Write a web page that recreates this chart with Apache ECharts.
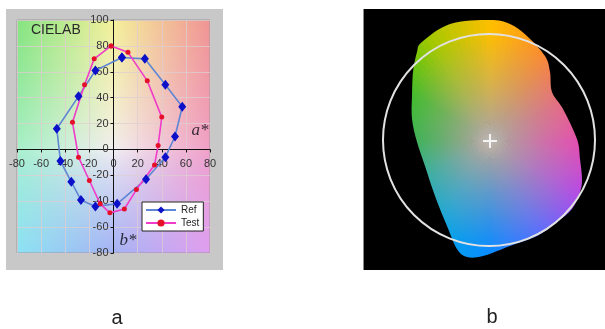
<!DOCTYPE html>
<html><head><meta charset="utf-8">
<script src="https://cdn.jsdelivr.net/npm/echarts@6/dist/echarts.min.js"></script>
<style>html,body{margin:0;padding:0;background:#fff;}#c{width:605px;height:329px;}</style>
</head><body><div id="c"></div>
<script>
// ---------- Panel a: CIELAB a*/b* data ----------
const seriesNames = ['Ref', 'Test'];
const refA  = [7, 26, 43, 57, 51, 43, 27, 3, -15, -27, -35, -44, -47, -29, -15];
const refB  = [71, 70, 50, 33, 10, -6, -23, -42, -44, -39, -25, -9, 16, 41, 61];
const testA = [-2, 12, 28, 40, 37, 34, 19, 9, -3, -11, -20, -29, -34, -24, -16];
const testB = [80, 75, 53, 25, 3, -12, -31, -46, -49, -42, -24, -6, 21, 50, 70];
const aTicks = [-80, -60, -40, -20, 0, 20, 40, 60, 80];
const bTicks = [-80, -60, -40, -20, 0, 20, 40, 60, 80, 100];

// ---------- Panel b: gamut outline (a*, b* units) and reference circle ----------
const blobU = [-68, -40, 0, 20, 37, 55, 60, 62, 73, 87, 90, 92, 90, 82, 67, 47, 20, -7, -23, -33, -43, -55, -65, -73, -78, -78, -77, -73];
const blobV = [99, 117, 121, 117, 105, 85, 69, 49, 32, 2, -18, -38, -51, -68, -81, -95, -105, -115, -116, -108, -85, -55, -25, -1, 22, 45, 69, 89];
const circleRadius = [106];
const hueAngles = [0, 30, 60, 90, 120, 150, 180, 210, 240, 270, 300, 330];

// ---------- styles ----------
const FONT = 'Liberation Sans';
const hueColors = ['#f03cb4', '#f85a78', '#ff8a2a', '#ffbe00', '#a8c800', '#30c018',
                   '#10b838', '#00b4a8', '#00a8e6', '#0a8cff', '#5a6cff', '#b448e8'];
const gamutCenterColor = '#aca49c';
const bgTop = ['#84e480', '#f4f09a', '#f09494'];
const bgMid = ['#a8f0cc', '#f2eef2', '#f0a0c8'];
const bgBot = ['#8ce2f4', '#a4b2f4', '#e09ef0'];

function hex(c){return [parseInt(c.slice(1,3),16),parseInt(c.slice(3,5),16),parseInt(c.slice(5,7),16)];}
function mixA(A,B,t){return A.map((v,i)=>v+(B[i]-v)*t);}
function css(A){return 'rgb('+A.map(v=>Math.round(v)).join(',')+')';}

function bgColAt(j, b){
  if (b >= 0) return mixA(hex(bgMid[j]), hex(bgTop[j]), Math.pow(b / 100, 0.8));
  return mixA(hex(bgMid[j]), hex(bgBot[j]), Math.pow(-b / 80, 0.8));
}
function hueAt(deg){
  deg = ((deg % 360) + 360) % 360;
  const k = Math.floor(deg / 30), t = (deg - k * 30) / 30;
  return mixA(hex(hueColors[k]), hex(hueColors[(k + 1) % 12]), t);
}

function renderBg(params, api){
  const kids = [];
  const xl = api.coord([aTicks[0], 0])[0], xr = api.coord([aTicks[aTicks.length-1], 0])[0];
  const bMin = bTicks[0], bMax = bTicks[bTicks.length-1];
  for (let b = bMin; b < bMax; b += 2){
    const yT = api.coord([0, b + 2])[1], yB = api.coord([0, b])[1];
    const stops = [0,1,2].map(j => ({offset: j/2, color: css(bgColAt(j, b + 1))}));
    kids.push({type:'rect', shape:{x:xl, y:yT, width:xr-xl, height:yB-yT+0.8},
      style:{fill:{type:'linear', x:0, y:0, x2:1, y2:0, colorStops:stops}}});
  }
  return {type:'group', children:kids};
}

function f(v){return v.toFixed(2);}
function smoothClosed(p){
  const n = p.length; let d = 'M' + f(p[0][0]) + ' ' + f(p[0][1]);
  for (let i = 0; i < n; i++){
    const p0 = p[(i-1+n)%n], p1 = p[i], p2 = p[(i+1)%n], p3 = p[(i+2)%n];
    const c1 = [p1[0]+(p2[0]-p0[0])/6, p1[1]+(p2[1]-p0[1])/6];
    const c2 = [p2[0]-(p3[0]-p1[0])/6, p2[1]-(p3[1]-p1[1])/6];
    d += ' C' + f(c1[0]) + ' ' + f(c1[1]) + ' ' + f(c2[0]) + ' ' + f(c2[1]) + ' ' + f(p2[0]) + ' ' + f(p2[1]);
  }
  return d + ' Z';
}

function renderGamut(params, api){
  const c = api.coord([0, 0]);
  let pts = blobU.map((u, i) => api.coord([u, blobV[i]]));
  let area = 0;
  for (let i = 0; i < pts.length; i++){
    const a = pts[i], b = pts[(i+1)%pts.length];
    area += a[0]*b[1] - b[0]*a[1];
  }
  if (area > 0) pts = pts.slice().reverse();
  const kids = [];
  const N = 120, R = 124, G = 108;
  const cc = hex(gamutCenterColor);
  for (let k = 0; k < N; k++){
    const a0 = k * 360 / N, a1 = (k + 1) * 360 / N;
    const col = hueAt((a0 + a1) / 2);
    kids.push({type:'sector', shape:{cx:c[0], cy:c[1], r0:0, r:R,
        startAngle:-(a1 + 0.8) * Math.PI / 180, endAngle:-(a0 - 0.8) * Math.PI / 180, clockwise:true},
      style:{fill:{type:'radial', x:c[0], y:c[1], r:G, global:true, colorStops:[
        {offset:0, color:gamutCenterColor},
        {offset:0.08, color:gamutCenterColor},
        {offset:0.5, color:css(mixA(cc, col, 0.5))},
        {offset:1, color:css(col)}]}}});
  }
  const cs = params.coordSys;
  const x0 = cs.x, y0 = cs.y, x1 = cs.x + cs.width, y1 = cs.y + cs.height;
  const d = 'M' + x0 + ' ' + y0 + ' L' + x1 + ' ' + y0 + ' L' + x1 + ' ' + y1 + ' L' + x0 + ' ' + y1 + ' Z ' + smoothClosed(pts);
  kids.push({type:'path', shape:{pathData:d}, style:{fill:'#000'}});
  kids.push({type:'line', shape:{x1:x0+0.5, y1:y0, x2:x0+0.5, y2:y1}, style:{stroke:'#8a8a8a', lineWidth:1}});
  return {type:'group', children:kids};
}

function renderCircle(params, api){
  const c = api.coord([0, 0]);
  const r = api.size([circleRadius[0], 0])[0];
  return {type:'group', children:[
    {type:'circle', shape:{cx:c[0]-1, cy:c[1]-1, r:r}, style:{fill:null, stroke:'#e2e2e2', lineWidth:2}},
    {type:'line', shape:{x1:c[0]-7, y1:c[1], x2:c[0]+7, y2:c[1]}, style:{stroke:'#f4f4f4', lineWidth:2}},
    {type:'line', shape:{x1:c[0], y1:c[1]-7, x2:c[0], y2:c[1]+7}, style:{stroke:'#f4f4f4', lineWidth:2}}
  ]};
}

const closeLoop = (xs, ys) => xs.map((v, i) => [v, ys[i]]).concat([[xs[0], ys[0]]]);
const step = aTicks[1] - aTicks[0];

// plot area of panel a
const GA = {left:17, top:20, width:193, height:233};
const aMin = aTicks[0], aMax = aTicks[aTicks.length-1];
const bMin = bTicks[0], bMax = bTicks[bTicks.length-1];
// move the axes (line, ticks and labels) to the zero crossing
const yAxisOffset = -((0 - aMin) / (aMax - aMin)) * GA.width;
const xAxisOffset = -((0 - bMin) / (bMax - bMin)) * GA.height;

const chart = echarts.init(document.getElementById('c'));
chart.setOption({
  animation:false,
  backgroundColor:'#ffffff',
  textStyle:{fontFamily:FONT},
  graphic:[
    {type:'rect', z:-10, shape:{x:6, y:9, width:217, height:261}, style:{fill:'#c8c8c8'}},
    {type:'text', z:10, x:31, y:30, style:{text:'CIELAB', fontSize:14, fontFamily:FONT, fill:'#2a2a2a', align:'left', verticalAlign:'middle'}},
    {type:'text', z:10, x:200, y:131, style:{text:'a*', fontSize:17, fontStyle:'italic', fontFamily:'Liberation Serif', fill:'#3a2a3a', align:'center', verticalAlign:'middle'}},
    {type:'text', z:10, x:128, y:241, style:{text:'b*', fontSize:17, fontStyle:'italic', fontFamily:'Liberation Serif', fill:'#2a2a3a', align:'center', verticalAlign:'middle'}},
    {type:'text', z:10, x:117, y:318, style:{text:'a', fontSize:20, fontFamily:FONT, fill:'#222', align:'center', verticalAlign:'middle'}},
    {type:'text', z:10, x:492, y:317, style:{text:'b', fontSize:20, fontFamily:FONT, fill:'#222', align:'center', verticalAlign:'middle'}}
  ],
  legend:{
    data:seriesNames, left:142, top:202, orient:'vertical',
    backgroundColor:'#ffffff', borderColor:'#222', borderWidth:1, borderRadius:0,
    padding:[3,4,3,3], itemGap:3, itemWidth:30, itemHeight:9,
    textStyle:{fontSize:10, fontFamily:FONT, color:'#222'}
  },
  grid:[
    {left:GA.left, top:GA.top, width:GA.width, height:GA.height, show:true, borderColor:'#9a9a9a', borderWidth:1, backgroundColor:'transparent'},
    {left:363, top:9, width:242, height:261, show:false}
  ],
  xAxis:[
    {gridIndex:0, type:'value', min:aMin, max:aMax, interval:step, position:'bottom', offset:xAxisOffset,
      axisLine:{onZero:false, lineStyle:{color:'#111', width:1}},
      axisTick:{show:true, length:3, lineStyle:{color:'#111'}},
      axisLabel:{fontSize:11, fontFamily:FONT, color:'#333', margin:9},
      splitLine:{show:true, lineStyle:{color:'rgba(222,206,210,0.75)', width:1}}},
    {gridIndex:1, type:'value', min:-127, max:115, show:false}
  ],
  yAxis:[
    {gridIndex:0, type:'value', min:bMin, max:bMax, interval:step, position:'left', offset:yAxisOffset,
      axisLine:{onZero:false, lineStyle:{color:'#111', width:1}},
      axisTick:{show:true, length:3, lineStyle:{color:'#111'}},
      axisLabel:{fontSize:11, fontFamily:FONT, color:'#333', margin:5},
      splitLine:{show:true, lineStyle:{color:'rgba(222,206,210,0.75)', width:1}}},
    {gridIndex:1, type:'value', min:-129, max:132, show:false}
  ],
  series:[
    {type:'custom', name:'bg', xAxisIndex:0, yAxisIndex:0, z:-1, silent:true, data:[[0,0]], renderItem:renderBg},
    {type:'line', name:seriesNames[0], xAxisIndex:0, yAxisIndex:0, data:closeLoop(refA, refB),
      symbol:'diamond', symbolSize:[8,10], showAllSymbol:true,
      lineStyle:{color:'#5f86d4', width:1.6}, itemStyle:{color:'#0c10c8'}},
    {type:'line', name:seriesNames[1], xAxisIndex:0, yAxisIndex:0, data:closeLoop(testA, testB),
      symbol:'circle', symbolSize:5, showAllSymbol:true,
      lineStyle:{color:'#f03cc8', width:1.6}, itemStyle:{color:'#e4102a'}},
    {type:'custom', name:'gamut', xAxisIndex:1, yAxisIndex:1, silent:true, data:[[0,0]], renderItem:renderGamut},
    {type:'custom', name:'circle', xAxisIndex:1, yAxisIndex:1, silent:true, z:3, data:[[0,0]], renderItem:renderCircle}
  ]
});
</script></body></html>
